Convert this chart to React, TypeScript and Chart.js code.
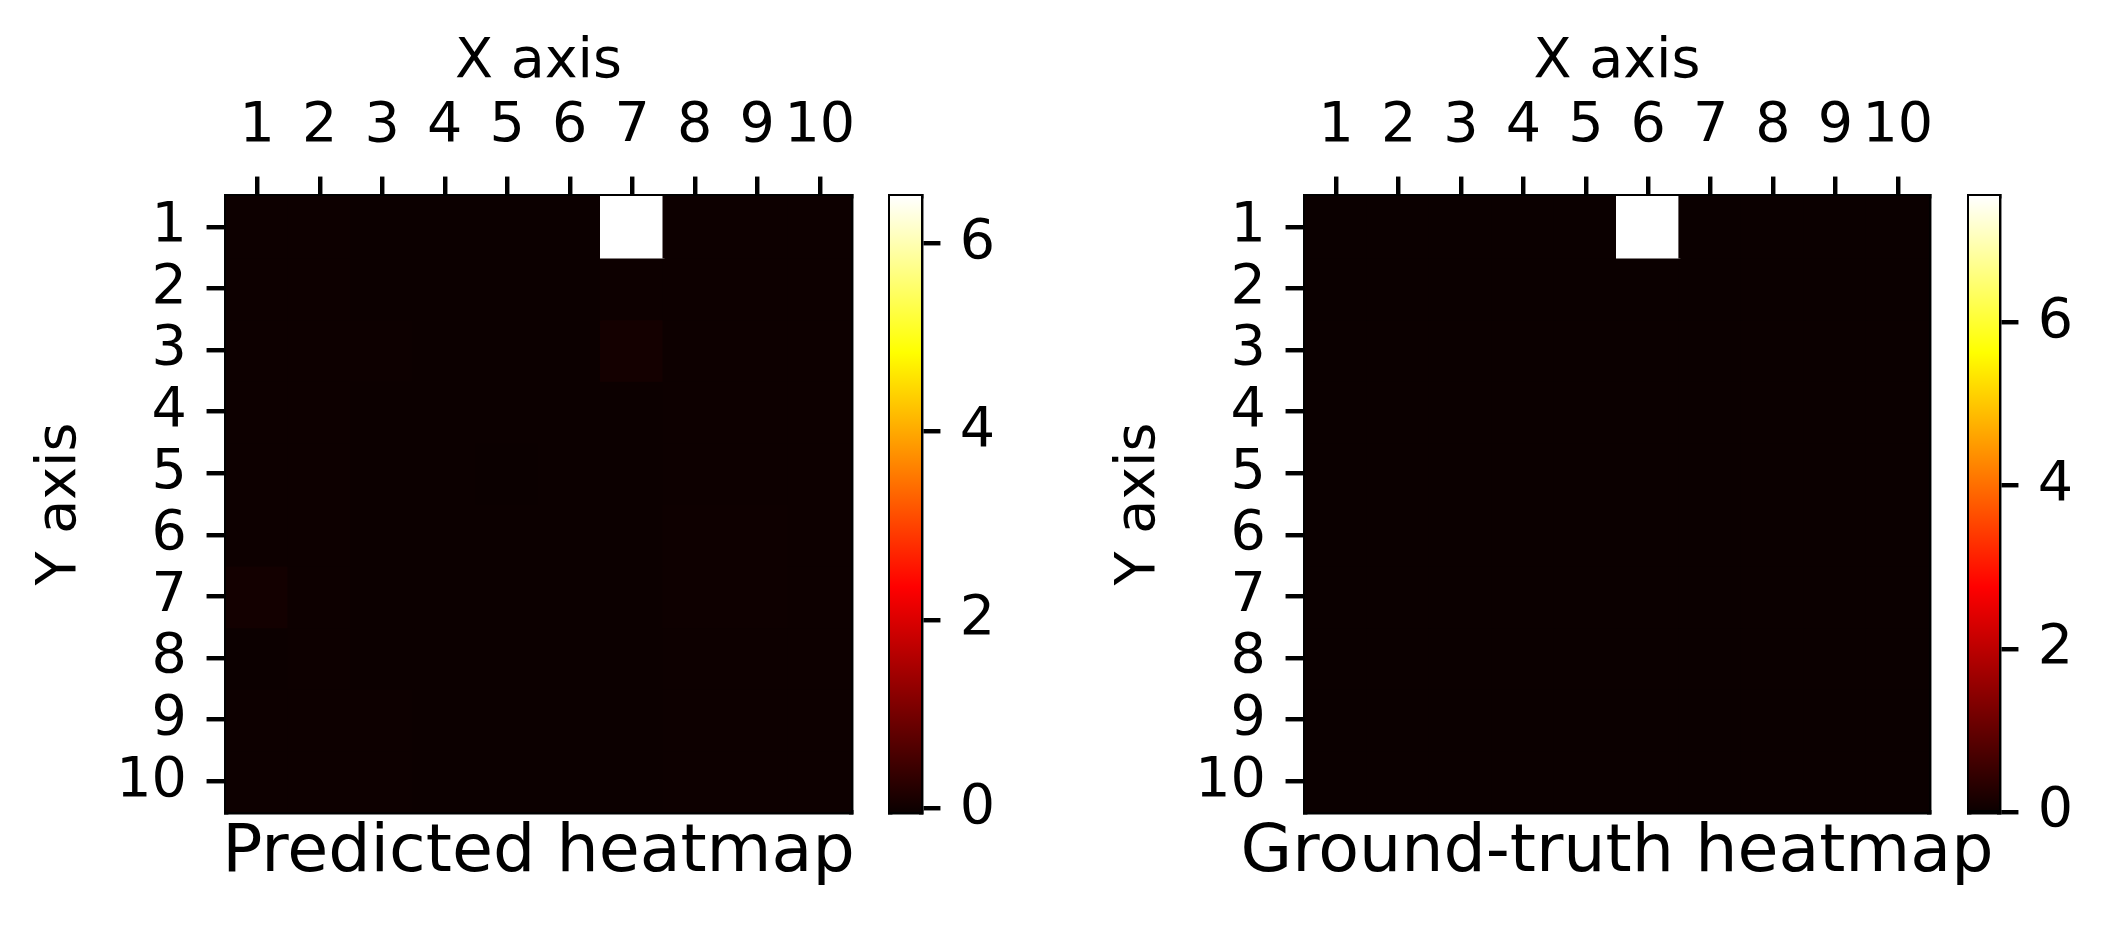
import React, { useEffect, useRef } from 'react';
import { Chart, registerables } from 'chart.js';

Chart.register(...registerables);

// ---------------- data ----------------
const xTickLabels = ['1', '2', '3', '4', '5', '6', '7', '8', '9', '10'];
const yTickLabels = ['1', '2', '3', '4', '5', '6', '7', '8', '9', '10'];

const predictedRows: number[][] = [
  [-0.02, -0.02, -0.03, -0.03, -0.03, -0.03, 6.5, -0.02, -0.02, -0.02],
  [-0.02, -0.02, -0.03, -0.03, -0.03, -0.03, -0.02, -0.02, -0.02, -0.02],
  [-0.02, -0.02, -0.02, -0.03, -0.03, -0.03, 0.05, -0.02, -0.02, -0.02],
  [-0.02, -0.02, -0.03, -0.03, -0.03, -0.03, -0.03, -0.02, -0.02, -0.02],
  [-0.02, -0.02, -0.03, -0.03, -0.04, -0.03, -0.03, -0.02, -0.02, -0.02],
  [-0.02, -0.02, -0.03, -0.03, -0.03, -0.03, -0.03, -0.01, -0.01, -0.02],
  [0.04, -0.02, -0.03, -0.03, -0.03, -0.03, -0.03, -0.01, -0.01, -0.02],
  [-0.03, -0.02, -0.03, -0.03, -0.03, -0.03, -0.03, -0.02, -0.02, -0.02],
  [-0.02, -0.02, -0.02, -0.03, -0.03, -0.03, -0.03, -0.02, -0.02, -0.02],
  [-0.02, -0.02, -0.02, -0.03, -0.03, -0.03, -0.03, -0.02, -0.02, -0.02],
];

const groundTruthRows: number[][] = [
  [0, 0, 0, 0, 0, 7.55, 0, 0, 0, 0],
  [0, 0, 0, 0, 0, 0, 0, 0, 0, 0],
  [0, 0, 0, 0, 0, 0, 0, 0, 0, 0],
  [0, 0, 0, 0, 0, 0, 0, 0, 0, 0],
  [0, 0, 0, 0, 0, 0, 0, 0, 0, 0],
  [0, 0, 0, 0, 0, 0, 0, 0, 0, 0],
  [0, 0, 0, 0, 0, 0, 0, 0, 0, 0],
  [0, 0, 0, 0, 0, 0, 0, 0, 0, 0],
  [0, 0, 0, 0, 0, 0, 0, 0, 0, 0],
  [0, 0, 0, 0, 0, 0, 0, 0, 0, 0],
];

const predictedColorbarTicks = [0, 2, 4, 6];
const groundTruthColorbarTicks = [0, 2, 4, 6];

const xAxisTitle = 'X axis';
const yAxisTitle = 'Y axis';
const predictedTitle = 'Predicted heatmap';
const groundTruthTitle = 'Ground-truth heatmap';

// ---------------- styling ----------------
const H = 932;
const PT = 400 / 72;
const LW = 0.8 * PT;
const TICK_LEN = 3.5 * PT;
const FONT_FAMILY = "'DejaVu Sans', sans-serif";
const SMALL = 10 * PT;
const LARGE = 12 * PT;
const CHART_TOP = 196;
const CHART_BOTTOM = 812;

Chart.defaults.font.family = FONT_FAMILY;
Chart.defaults.color = '#000';

// matplotlib "hot" colormap
const HOT_STOPS = [0, 0.365079, 0.746032, 1];
function hot(t: number): string {
  const x = Math.max(0, Math.min(1, t));
  const r = x < 0.365079 ? 0.0416 + (1 - 0.0416) * (x / 0.365079) : 1;
  const g = x < 0.365079 ? 0 : x < 0.746032 ? (x - 0.365079) / (0.746032 - 0.365079) : 1;
  const b = x < 0.746032 ? 0 : (x - 0.746032) / (1 - 0.746032);
  return `rgb(${Math.round(r * 255)},${Math.round(g * 255)},${Math.round(b * 255)})`;
}

function range(rows: number[][]) {
  const flat = rows.flat();
  return { vmin: Math.min(...flat), vmax: Math.max(...flat) };
}

function zeroPad(s: any) {
  s.paddingLeft = 0;
  s.paddingRight = 0;
  s.paddingTop = 0;
  s.paddingBottom = 0;
}

function spineAxis(position: 'top' | 'bottom' | 'left' | 'right', size = 0) {
  const horizontal = position === 'top' || position === 'bottom';
  return {
    type: 'linear',
    axis: horizontal ? 'x' : 'y',
    position,
    display: true,
    z: 1,
    min: 0,
    max: 1,
    ticks: { display: false },
    grid: { display: false, drawTicks: false, lineWidth: LW },
    border: { display: true, color: '#000', width: LW },
    afterFit: (s: any) => {
      if (horizontal) s.height = size;
      else s.width = size;
      zeroPad(s);
    },
  };
}

const baseOptions = {
  responsive: false,
  maintainAspectRatio: false,
  animation: false,
  devicePixelRatio: 1,
  events: [],
};

// ---------------- heatmap panel ----------------
function HeatmapPanel(props: {
  rows: number[][];
  title: string;
  left: number;
  chartLeft: number;
  chartRight: number;
}) {
  const ref = useRef<HTMLCanvasElement>(null);
  // canvas symmetric around the plot centre so the full-width bottom title is centred on the plot
  const width = 2 * ((props.chartLeft + props.chartRight) / 2);
  useEffect(() => {
    const { rows, title, chartLeft, chartRight } = props;
    const { vmin, vmax } = range(rows);
    const datasets = rows.map((row, r) => ({
      data: row.map(() => [r + 0.5, r + 1.5]),
      backgroundColor: row.map((v) => hot((v - vmin) / (vmax - vmin))),
      borderWidth: 0,
      barPercentage: 1,
      categoryPercentage: 1,
      grouped: false,
      inflateAmount: 1,
    }));
    const chart = new Chart(ref.current as HTMLCanvasElement, {
      type: 'bar',
      data: { labels: xTickLabels, datasets },
      options: {
        ...baseOptions,
        layout: { padding: 0 },
        plugins: {
          legend: { display: false },
          tooltip: { enabled: false },
          title: {
            display: true,
            text: title,
            position: 'bottom',
            fullSize: true,
            color: '#000',
            font: { family: FONT_FAMILY, size: LARGE, weight: 'normal', lineHeight: 1 },
            padding: { top: 8.6, bottom: H - CHART_BOTTOM - LARGE - 8.6 },
          },
        },
        scales: {
          x: {
            type: 'category',
            position: 'top',
            offset: true,
            z: 1,
            ticks: {
              autoSkip: false,
              maxRotation: 0,
              minRotation: 0,
              padding: 22,
              color: '#000',
              font: { family: FONT_FAMILY, size: SMALL, lineHeight: 1 },
            },
            grid: {
              display: true,
              offset: false,
              drawOnChartArea: false,
              drawTicks: true,
              tickLength: TICK_LEN,
              tickWidth: LW,
              tickColor: '#000',
              lineWidth: LW,
              color: '#000',
            },
            border: { display: true, color: '#000', width: LW },
            title: {
              display: true,
              text: xAxisTitle,
              color: '#000',
              font: { family: FONT_FAMILY, size: SMALL, lineHeight: 1 },
              padding: { top: 35, bottom: 0 },
            },
            afterFit: (s: any) => {
              s.height = CHART_TOP;
              zeroPad(s);
            },
          },
          y: {
            type: 'linear',
            position: 'left',
            reverse: true,
            min: 0.5,
            max: yTickLabels.length + 0.5,
            z: 1,
            afterBuildTicks: (s: any) => {
              s.ticks = yTickLabels.map((_, i) => ({ value: i + 1 }));
            },
            ticks: {
              autoSkip: false,
              padding: 19.6,
              color: '#000',
              font: { family: FONT_FAMILY, size: SMALL, lineHeight: 1 },
              callback: (v: any) => yTickLabels[Math.round(Number(v)) - 1],
            },
            grid: {
              display: true,
              drawOnChartArea: false,
              drawTicks: true,
              tickLength: TICK_LEN,
              tickWidth: LW,
              tickColor: '#000',
              lineWidth: LW,
              color: '#000',
            },
            border: { display: true, color: '#000', width: LW },
            title: {
              display: true,
              text: yAxisTitle,
              color: '#000',
              font: { family: FONT_FAMILY, size: SMALL, lineHeight: 1 },
              padding: { top: 33, bottom: 0 },
            },
            afterFit: (s: any) => {
              s.width = chartLeft;
              zeroPad(s);
            },
          },
          xBottom: spineAxis('bottom'),
          yRight: spineAxis('right', width - chartRight),
        },
      } as any,
    });
    return () => chart.destroy();
  }, []);
  return (
    <canvas
      ref={ref}
      width={width}
      height={H}
      style={{ position: 'absolute', left: props.left, top: 0, width, height: H }}
    />
  );
}

// ---------------- colorbar ----------------
function Colorbar(props: {
  rows: number[][];
  ticks: number[];
  left: number;
  width: number;
  barLeft: number;
  barRight: number;
}) {
  const ref = useRef<HTMLCanvasElement>(null);
  useEffect(() => {
    const { rows, ticks, width, barLeft, barRight } = props;
    const { vmin, vmax } = range(rows);
    const chart = new Chart(ref.current as HTMLCanvasElement, {
      type: 'bar',
      data: {
        labels: [''],
        datasets: [
          {
            data: [[vmin, vmax]],
            borderWidth: 0,
            barPercentage: 1,
            categoryPercentage: 1,
            backgroundColor: (ctx: any) => {
              const c = ctx.chart;
              if (!c.chartArea) return hot(0);
              const ys = c.scales.y;
              const y0 = ys.getPixelForValue(vmin);
              const y1 = ys.getPixelForValue(vmax);
              const g = c.ctx.createLinearGradient(0, y0, 0, y1);
              HOT_STOPS.forEach((s) => g.addColorStop(s, hot(s)));
              return g;
            },
          },
        ],
      },
      options: {
        ...baseOptions,
        layout: { padding: { left: barLeft, top: CHART_TOP, right: 0, bottom: H - CHART_BOTTOM } },
        plugins: { legend: { display: false }, tooltip: { enabled: false }, title: { display: false } },
        scales: {
          x: { type: 'category', display: false, offset: true },
          y: {
            type: 'linear',
            position: 'right',
            min: vmin,
            max: vmax,
            z: 1,
            afterBuildTicks: (s: any) => {
              s.ticks = ticks.map((v) => ({ value: v }));
            },
            ticks: {
              autoSkip: false,
              padding: 19.4,
              color: '#000',
              font: { family: FONT_FAMILY, size: SMALL, lineHeight: 1 },
              callback: (v: any) => String(v),
            },
            grid: {
              display: true,
              drawOnChartArea: false,
              drawTicks: true,
              tickLength: TICK_LEN,
              tickWidth: LW,
              tickColor: '#000',
              lineWidth: LW,
              color: '#000',
            },
            border: { display: true, color: '#000', width: LW },
            afterFit: (s: any) => {
              s.width = width - barRight;
              zeroPad(s);
            },
          },
          yLeft: spineAxis('left'),
          xTop: spineAxis('top'),
          xBottom: spineAxis('bottom'),
        },
      } as any,
    });
    return () => chart.destroy();
  }, []);
  return (
    <canvas
      ref={ref}
      width={props.width}
      height={H}
      style={{ position: 'absolute', left: props.left, top: 0, width: props.width, height: H }}
    />
  );
}

export default function App() {
  return (
    <div
      style={{
        position: 'absolute',
        left: 0,
        top: 0,
        width: 2113,
        height: H,
        background: '#fff',
        overflow: 'hidden',
      }}
    >
      <HeatmapPanel rows={predictedRows} title={predictedTitle} left={0} chartLeft={226} chartRight={851} />
      <HeatmapPanel rows={groundTruthRows} title={groundTruthTitle} left={1079} chartLeft={226} chartRight={850} />
      <Colorbar rows={predictedRows} ticks={predictedColorbarTicks} left={870} width={200} barLeft={20} barRight={51} />
      <Colorbar rows={groundTruthRows} ticks={groundTruthColorbarTicks} left={1949} width={164} barLeft={20} barRight={50} />
    </div>
  );
}
